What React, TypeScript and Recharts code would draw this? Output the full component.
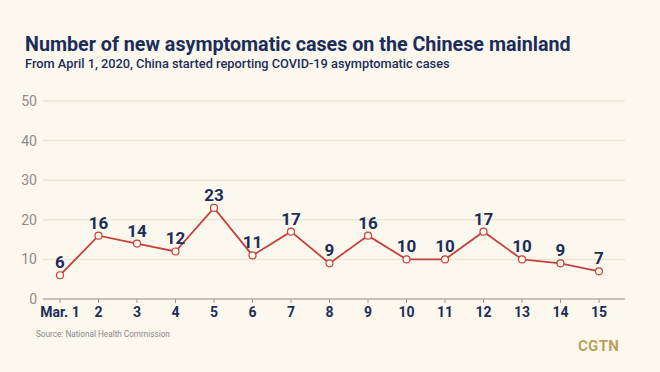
import { LineChart, Line, XAxis, YAxis, CartesianGrid, LabelList } from 'recharts'

const days = ['Mar. 1', '2', '3', '4', '5', '6', '7', '8', '9', '10', '11', '12', '13', '14', '15']
const newCases = [6, 16, 14, 12, 23, 11, 17, 9, 16, 10, 10, 17, 10, 9, 7]
const yTicks = [0, 10, 20, 30, 40, 50]

const data = days.map((day, i) => ({ day, cases: newCases[i] }))

const navy = '#1b2d5b'
const font = 'Roboto, sans-serif'

export default function App() {
  return (
    <div
      style={{
        position: 'fixed',
        left: 0,
        top: 0,
        width: 660,
        height: 372,
        background: '#fcf8ee',
        fontFamily: font,
        overflow: 'hidden',
      }}
    >
      <div style={{ position: 'absolute', left: 25, top: 33, fontSize: 19.7, fontWeight: 700, color: navy, whiteSpace: 'nowrap' }}>
        Number of new asymptomatic cases on the Chinese mainland
      </div>
      <div style={{ position: 'absolute', left: 25, top: 56, fontSize: 12.8, fontWeight: 500, color: navy, whiteSpace: 'nowrap' }}>
        From April 1, 2020, China started reporting COVID-19 asymptomatic cases
      </div>
      <div style={{ position: 'absolute', left: 36, top: 329, fontSize: 8.2, color: '#8a8a8a' }}>
        Source: National Health Commission
      </div>
      <div style={{ position: 'absolute', left: 578, top: 337, fontSize: 15, fontWeight: 700, color: '#b9a25c', letterSpacing: 0.3 }}>
        CGTN
      </div>
      <div style={{ position: 'absolute', left: 0, top: 0 }}>
        <LineChart width={660} height={372} data={data} margin={{ top: 101, right: 35, bottom: 43, left: 0 }}>
          <CartesianGrid vertical={false} stroke="#ebe6d8" strokeWidth={1.5} />
          <XAxis
            dataKey="day"
            padding={{ left: 17, right: 26 }}
            stroke="#9a9a9a"
            tickSize={4}
            tickMargin={4}
            tick={{ fill: navy, fontSize: 14, fontWeight: 700, fontFamily: font }}
            interval={0}
            height={30}
          />
          <YAxis
            domain={[0, 50]}
            ticks={yTicks}
            width={43}
            axisLine={false}
            tickLine={false}
            tickMargin={0}
            tick={{ fill: '#8c8c8c', fontSize: 14, fontFamily: font }}
          />
          <Line
            type="linear"
            dataKey="cases"
            stroke="#c6403c"
            strokeWidth={1.8}
            dot={{ r: 3.5, fill: '#fffaf2', stroke: '#c6403c', strokeWidth: 1.2 }}
            isAnimationActive={false}
          >
            <LabelList dataKey="cases" position="top" offset={7} fill={navy} fontSize={17} fontWeight={700} fontFamily={font} />
          </Line>
        </LineChart>
      </div>
    </div>
  )
}
